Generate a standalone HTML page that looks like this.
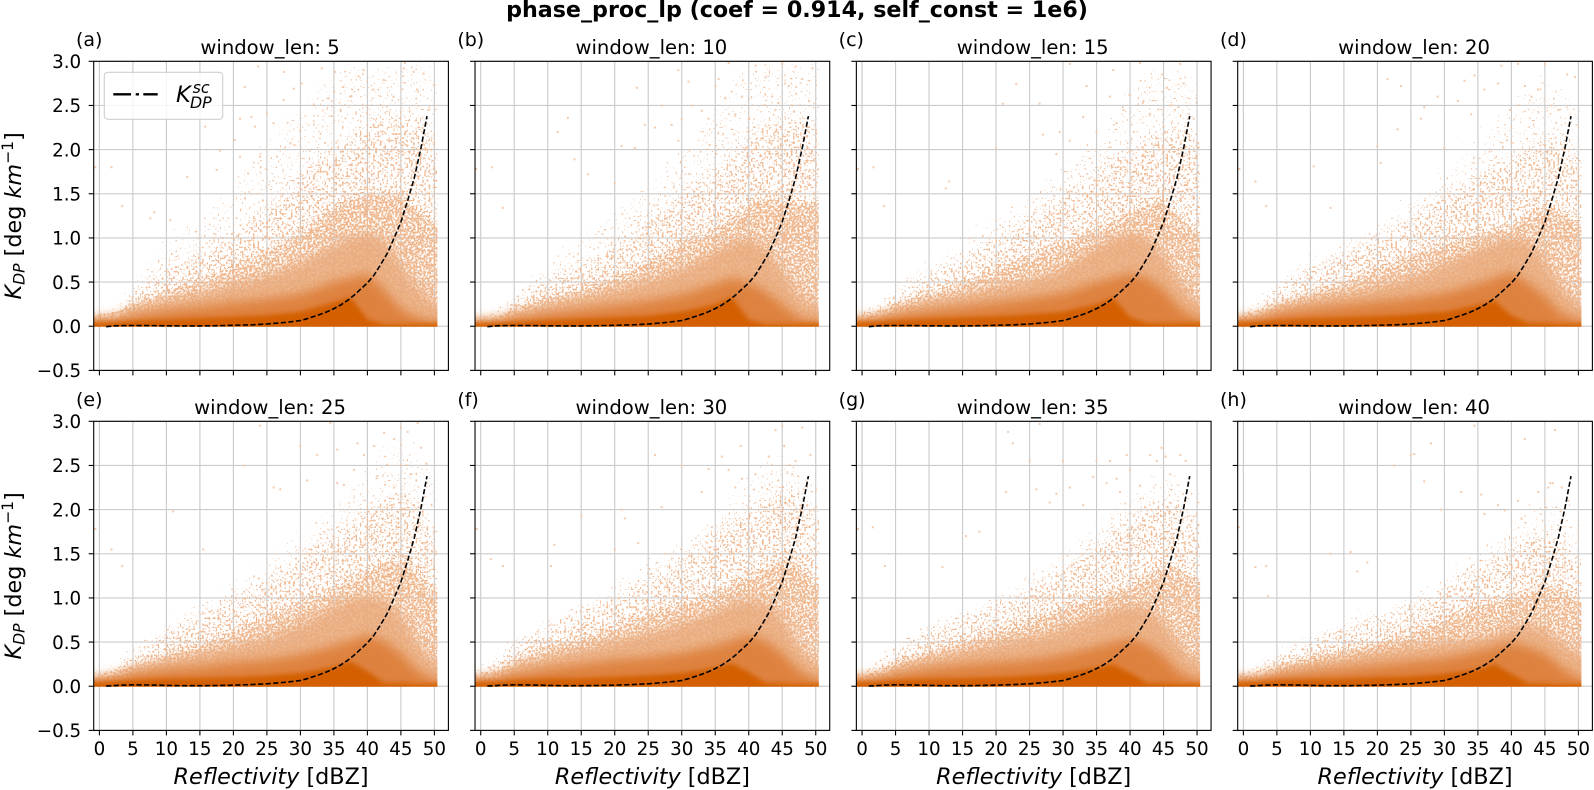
<!DOCTYPE html>
<html lang="en">
<head>
<meta charset="utf-8">
<title>phase_proc_lp scatter panels</title>
<style>
html,body{margin:0;padding:0;background:#fff;width:1594px;height:790px;overflow:hidden}
svg{display:block;font-family:"DejaVu Sans","Liberation Sans",sans-serif}
</style>
</head>
<body>
<svg id="figure" xmlns="http://www.w3.org/2000/svg" width="1594" height="790" viewBox="0 0 1594 790">
  <defs>
    <filter id="stipVeil" x="-5%" y="-10%" width="110%" height="120%" color-interpolation-filters="sRGB">
      <feGaussianBlur in="SourceAlpha" stdDeviation="12" result="b"/>
      <feTurbulence type="fractalNoise" baseFrequency="0.45" numOctaves="1" seed="21" result="n"/>
      <feColorMatrix in="n" type="matrix" values="0 0 0 0 0  0 0 0 0 0  0 0 0 0 0  1 0 0 0 0" result="na"/>
      <feComposite in="na" in2="b" operator="arithmetic" k1="0" k2="1" k3="0.35" k4="-0.35" result="a"/>
      <feComponentTransfer in="a" result="m"><feFuncA type="linear" slope="22" intercept="-14.3"/></feComponentTransfer>
      <feFlood flood-color="#f1c09c"/>
      <feComposite in2="m" operator="in"/>
    </filter>
    <filter id="stipSparse" x="-5%" y="-10%" width="110%" height="120%" color-interpolation-filters="sRGB">
      <feGaussianBlur in="SourceAlpha" stdDeviation="10" result="b"/>
      <feTurbulence type="fractalNoise" baseFrequency="0.45" numOctaves="1" seed="4" result="n"/>
      <feColorMatrix in="n" type="matrix" values="0 0 0 0 0  0 0 0 0 0  0 0 0 0 0  1 0 0 0 0" result="na"/>
      <feComposite in="na" in2="b" operator="arithmetic" k1="0" k2="1" k3="0.35" k4="-0.35" result="a"/>
      <feComponentTransfer in="a" result="m"><feFuncA type="linear" slope="22" intercept="-12.4"/></feComponentTransfer>
      <feFlood flood-color="#f0bd98"/>
      <feComposite in2="m" operator="in"/>
    </filter>
    <filter id="stipDense" x="-5%" y="-10%" width="110%" height="120%" color-interpolation-filters="sRGB">
      <feGaussianBlur in="SourceAlpha" stdDeviation="6" result="b"/>
      <feTurbulence type="fractalNoise" baseFrequency="0.5" numOctaves="1" seed="9" result="n"/>
      <feColorMatrix in="n" type="matrix" values="0 0 0 0 0  0 0 0 0 0  0 0 0 0 0  1 0 0 0 0" result="na"/>
      <feComposite in="na" in2="b" operator="arithmetic" k1="0" k2="1" k3="0.35" k4="-0.35" result="a"/>
      <feComponentTransfer in="a" result="m"><feFuncA type="linear" slope="22" intercept="-10.3"/></feComponentTransfer>
      <feFlood flood-color="#efb88f"/>
      <feComposite in2="m" operator="in"/>
    </filter>
    <filter id="softPale" x="-5%" y="-15%" width="110%" height="130%"><feGaussianBlur stdDeviation="5"/></filter>
    <filter id="softMid" x="-5%" y="-15%" width="110%" height="130%"><feGaussianBlur stdDeviation="5.5"/></filter>
    <filter id="softCore" x="-5%" y="-15%" width="110%" height="130%"><feGaussianBlur stdDeviation="2.4"/></filter>
  </defs>
  <rect width="1594" height="790" fill="#fff"/>
  <text x="797" y="17" text-anchor="middle" font-weight="bold" font-size="22.2" fill="#000">phase_proc_lp (coef = 0.914, self_const = 1e6)</text>
  <g id="panels"></g>
  <g>
    <rect x="104.3" y="72.3" width="118.4" height="47" rx="3.5" fill="#fff" fill-opacity="0.8" stroke="#cfcfcf" stroke-width="1.1"/>
    <line x1="113.3" y1="94.3" x2="157.7" y2="94.3" stroke="#000" stroke-width="2.4" stroke-dasharray="17.7 4.7 3.3 4.3 14.4"/>
    <text fill="#000" font-style="italic"><tspan x="176" y="102" font-size="22.5">K</tspan><tspan x="192.6" y="93" font-size="15.8">sc</tspan><tspan x="190" y="108" font-size="15.8">DP</tspan></text>
  </g>
</svg>
<script>
const windowLens = [5, 10, 15, 20, 25, 30, 35, 40];
const panelLetters = ["(a)", "(b)", "(c)", "(d)", "(e)", "(f)", "(g)", "(h)"];
const xTicks = [0, 5, 10, 15, 20, 25, 30, 35, 40, 45, 50];
const yTicks = [-0.5, 0, 0.5, 1, 1.5, 2, 2.5, 3];
const yTickLabels = ["\u22120.5", "0.0", "0.5", "1.0", "1.5", "2.0", "2.5", "3.0"];

const zBins = [-0.85, 2.5, 5, 10, 15, 20, 25, 30, 35, 37.5, 40, 42.5, 45, 47.5, 50.4];
const coreTop = [
  [.04,.045,.06,.075,.09,.105,.125,.165,.27,.33,.08,.03,.03,.03,.03],
  [.03,.04,.05,.07,.085,.10,.12,.165,.25,.33,.07,.03,.03,.03,.03],
  [.045,.055,.07,.085,.10,.115,.135,.165,.25,.32,.10,.04,.04,.04,.04],
  [.045,.055,.07,.09,.10,.115,.135,.165,.24,.29,.12,.04,.04,.03,.03],
  [.045,.055,.07,.085,.09,.10,.12,.15,.22,.28,.17,.04,.04,.03,.03],
  [.045,.055,.07,.085,.09,.105,.125,.15,.21,.26,.16,.04,.04,.03,.03],
  [.045,.055,.07,.085,.09,.10,.12,.15,.21,.25,.15,.04,.04,.03,.03],
  [.045,.055,.07,.08,.085,.10,.11,.14,.19,.25,.14,.04,.04,.03,.03]
];
const midTop = [
  [.07,.08,.12,.18,.22,.27,.31,.37,.50,.55,.60,.42,.20,.10,.05],
  [.05,.06,.09,.15,.19,.24,.29,.36,.48,.55,.50,.40,.25,.10,.05],
  [.07,.09,.13,.18,.22,.27,.32,.38,.50,.55,.60,.55,.42,.20,.07],
  [.07,.10,.15,.20,.24,.28,.32,.38,.48,.55,.62,.50,.35,.15,.06],
  [.07,.10,.14,.19,.22,.27,.30,.36,.46,.52,.58,.52,.38,.18,.06],
  [.08,.10,.14,.20,.25,.30,.33,.38,.46,.52,.58,.52,.38,.18,.06],
  [.08,.10,.14,.20,.24,.27,.30,.36,.45,.50,.55,.48,.35,.15,.06],
  [.08,.09,.13,.17,.20,.24,.28,.32,.40,.45,.50,.45,.38,.22,.08]
];
const paleTop = [
  [.10,.12,.22,.30,.38,.48,.58,.72,.92,1.02,1.05,1.00,.70,.45,.25],
  [.08,.10,.17,.26,.33,.42,.52,.65,.85,.95,1.00,.90,.65,.35,.22],
  [.10,.13,.20,.30,.36,.44,.52,.66,.90,1.00,1.05,1.02,.80,.50,.25],
  [.10,.14,.22,.32,.38,.46,.55,.70,.88,.95,1.00,.98,.75,.45,.25],
  [.10,.14,.22,.30,.38,.46,.55,.70,.90,1.00,1.02,1.00,.80,.50,.25],
  [.10,.14,.24,.34,.42,.52,.60,.72,.85,.95,.98,.95,.80,.45,.25],
  [.11,.14,.22,.32,.40,.48,.55,.65,.80,.88,.92,.90,.72,.45,.25],
  [.10,.12,.18,.26,.33,.40,.46,.50,.55,.60,.65,.72,.65,.50,.35]
];
const denseTop = [
  [.12,.18,.32,.45,.58,.72,.90,1.10,1.40,1.50,1.55,1.55,1.55,1.40,1.20],
  [.10,.15,.25,.38,.48,.60,.80,1.00,1.15,1.30,1.45,1.50,1.50,1.45,1.45],
  [.12,.20,.30,.42,.55,.70,.85,1.00,1.15,1.25,1.35,1.45,1.50,1.30,1.10],
  [.13,.20,.30,.42,.55,.70,.85,1.00,1.10,1.15,1.20,1.30,1.40,1.35,1.20],
  [.13,.20,.28,.42,.52,.68,.85,1.00,1.15,1.28,1.35,1.45,1.50,1.40,1.10],
  [.14,.22,.35,.50,.60,.72,.88,1.00,1.10,1.20,1.30,1.40,1.50,1.45,1.20],
  [.14,.20,.32,.45,.55,.68,.80,.95,1.05,1.12,1.20,1.30,1.40,1.40,1.20],
  [.12,.18,.28,.38,.46,.55,.65,.82,.95,1.00,1.05,1.12,1.20,1.15,1.00]
];
const sparseTop = [
  [.15,.25,.50,.75,.95,1.15,1.45,1.85,2.15,2.25,2.40,2.50,2.50,2.50,2.20],
  [.13,.22,.42,.65,.80,1.00,1.35,1.60,1.85,2.05,2.30,2.40,2.40,2.45,2.30],
  [.17,.30,.50,.70,.85,1.10,1.35,1.60,1.85,2.05,2.10,2.20,2.30,2.40,2.20],
  [.18,.35,.55,.75,.95,1.10,1.30,1.60,1.80,1.90,2.00,2.10,2.30,2.20,2.00],
  [.18,.32,.48,.72,.92,1.10,1.32,1.60,1.85,2.00,2.10,2.20,2.35,2.20,1.80],
  [.20,.40,.60,.78,.95,1.10,1.30,1.55,1.85,2.00,2.05,2.20,2.40,2.30,2.00],
  [.20,.35,.55,.72,.88,1.02,1.20,1.45,1.70,1.85,2.00,2.10,2.25,2.20,1.90],
  [.18,.32,.45,.60,.75,.88,.98,1.20,1.45,1.55,1.65,1.75,1.90,1.80,1.50]
];
const veilTop = [
  [.20,.40,.80,1.10,1.40,1.80,2.30,2.70,3.10,3.10,3.10,3.10,3.10,3.10,3.10],
  [.15,.30,.60,.85,1.20,1.50,1.80,2.20,2.70,3.10,3.10,3.10,3.10,3.10,3.10],
  [.20,.40,.60,.90,1.10,1.40,1.70,2.00,2.30,2.60,2.90,3.10,3.10,3.10,2.90],
  [.20,.45,.70,.90,1.10,1.30,1.60,1.90,2.30,2.50,2.70,2.90,3.00,2.90,2.60],
  [.20,.40,.60,.85,1.10,1.30,1.60,1.90,2.20,2.40,2.70,2.90,3.00,2.90,2.50],
  [.25,.45,.70,.90,1.10,1.30,1.60,1.80,2.10,2.30,2.50,2.70,2.90,2.70,2.40],
  [.25,.40,.65,.85,1.00,1.20,1.40,1.70,2.00,2.20,2.40,2.50,2.70,2.60,2.30],
  [.20,.35,.50,.70,.90,1.00,1.20,1.40,1.70,1.80,2.00,2.20,2.40,2.30,2.00]
];
const baseBand = [.04, .04, .045, .04, .04, .04, .04, .05];

const outliers = [
  [-.6,1.8, 1.8,1.8, 3.4,1.36, 8.2,1.29, 7.6,1.22, 10.6,1.2, 13.1,1.69, 17.5,1.77, 15.8,2.26, 18,1.99, 21,2.35, 21.7,2.71, 23.7,2.94, 22.7,2.37, 25,2.41, 27.6,2.88, 23.2,2.26, 29,2.69, 30.2,2.75, 33.2,2.92, 35.2,2.88, 38.7,2.83, 39.4,2.9, 42.4,2.79, 45.4,2.92, 48.4,2.86, 45.6,2.98, 46.9,2.88, 36.4,2.71, 34.2,2.58, 32,2.51, 37.4,2.6, 40.9,2.68, 43.9,2.6, 47.4,2.68, 39.9,2.41, 27.5,2.56, 26,2.3, 30,2.22, 33,2.18, 36,2.45, 42.9,2.49, 49.1,2.45, 24,1.92, 21,1.92, 26.5,1.92, 28.5,2.07, 22.2,1.73, 20.2,2.11],
  [-.7,1.78, 1.7,1.8, 3.3,1.34, 11.5,2.2, 13,2.36, 14,1.89, 16,1.72, 20,1.62, 21,2.04, 23,2.02, 24.5,2.28, 23.3,2.7, 29.5,2.1, 30,2.34, 29.5,2.9, 31,2.77, 31.5,2.5, 33,2.44, 35,2.72, 34,2.35, 36.5,2.58, 37,2.98, 35.5,2.8, 39,2.6, 40,2.35, 41,2.95, 42.5,2.82, 43.5,2.6, 45,2.97, 46,2.72, 47,2.94, 48,2.8, 49.5,2.92, 49,2.55, 46.5,2.5, 44,2.45, 38,2.4, 27,2.5, 28.5,2.28, 26,2.25],
  [-.6,1.78, 1.7,1.8, 3.3,1.36, 12.5,1.56, 13,1.64, 20,2.01, 21,2.52, 23,2.74, 26.5,2.52, 27,2.17, 29,1.95, 29.5,2.2, 31,2.1, 31,2.97, 33,2.37, 33.5,2.72, 35,2.2, 37,2.6, 38,2.3, 37.5,2.9, 39,2.45, 39.9,2.62, 41.5,2.98, 42,2.55, 43,2.4, 44.8,2.85, 45.5,2.7, 46,2.5, 47.5,2.97, 48,2.75, 49.5,2.35, 46.7,2.45],
  [-.6,1.78, 1.8,1.64, 3.4,1.36, 10.5,1.81, 13,1.34, 20,2.04, 21.5,2.8, 20.5,1.85, 23.5,2.72, 23,2.23, 26.5,2.35, 27,2.48, 29,2.6, 30,2.02, 32,2.55, 33,2.78, 34.5,2.84, 34,2.4, 36,2.68, 38,2.75, 38.5,2.95, 39.8,2.45, 41,2.97, 42,2.72, 43,2.6, 44,2.68, 45,2.97, 46,2.5, 47,2.45, 48.3,2.85, 49.5,2.82],
  [-.6,1.78, 1.8,1.55, 3.4,1.36, 11,1.98, 15.5,1.55, 21.5,2.5, 24,2.95, 26,2.25, 27,2.23, 30,2.72, 31,2.33, 32.5,2.62, 34.5,2.98, 35.5,2.68, 35.5,2.3, 36.5,2.28, 38,2.45, 38.5,2.75, 39.5,2.62, 41,2.72, 41.5,2.38, 42.5,2.87, 44,2.8, 45,2.93, 46,2.88, 47.5,2.98, 48,2.7, 48.8,2.52, 46.5,2.4, 44,2.25],
  [-.6,1.78, 3.3,1.36, 1.5,1.44, 10.5,1.36, 11,1.6, 15,1.93, 20,1.55, 21,2.0, 21.5,1.9, 23.5,1.62, 26,2.62, 27,2.03, 30,2.5, 33,2.2, 34,2.46, 34.5,1.8, 36,2.6, 37,2.45, 38,2.25, 38.8,2.72, 39,2.35, 40,2.02, 41,2.4, 42,2.25, 43,2.6, 44,2.9, 45,2.95, 45.3,2.72, 46.5,2.4, 47,2.55, 48,2.93, 49.2,2.62, 48.5,2.27],
  [-.6,1.78, 1.6,1.8, 3.4,1.36, 12,1.35, 15.5,1.7, 17.5,1.75, 21.8,2.88, 22.5,2.75, 25,2.55, 26.5,2.97, 26,2.23, 21.5,2.2, 28,2.08, 29,2.18, 30,2.55, 31,2.25, 33,2.05, 34.5,2.37, 35,2.55, 36.5,2.3, 37,2.55, 38,2.35, 38.5,2.2, 39.5,2.62, 40,2.45, 41.5,2.27, 43,2.62, 44,2.55, 44.7,2.7, 45.3,2.6, 47.5,2.62, 48.3,2.55, 46,2.4],
  [-.7,1.8, 1.8,1.35, 3.4,1.36, 3.7,1.02, 13,1.5, 16,1.52, 17,1.3, 18.5,1.4, 22.5,2.5, 25,2.62, 25.5,2.63, 27,2.32, 28,2.75, 29.5,2.0, 32.5,2.2, 34.5,2.95, 35.5,2.17, 36,1.95, 38,2.05, 39,1.99, 41,2.1, 41.5,1.9, 42,2.8, 44,2.2, 45.5,2.25, 45.8,2.3, 46.2,2.3, 46.5,2.9, 47.5,2.25, 48.5,2.1]
];

const curveZ = [1,2,3,5,7.5,10,12.5,15,17.5,20,22.5,25,28,30,31,32,33,34,35,36,37,38,39,40,41,42,43,44,45,46,47,48,48.9];
const curveTop = [-.005,.003,.006,.008,.007,.005,.004,.004,.006,.01,.015,.025,.045,.065,.085,.11,.135,.165,.2,.24,.29,.35,.42,.49,.58,.7,.83,1.0,1.18,1.42,1.68,2.02,2.38];
const curveBottom = [.002,.006,.011,.016,.014,.009,.006,.006,.008,.012,.018,.028,.047,.065,.085,.11,.135,.165,.2,.24,.29,.35,.42,.49,.58,.7,.83,1.0,1.18,1.42,1.68,2.02,2.38];

const NS = 'http://www.w3.org/2000/svg';
const root = document.getElementById('panels');
const PANEL_W = 354.7, PANEL_H = 309.1, STEP_X = 381.33;
const TOPS = [61.3, 421.3];

function make(tag, parent, attrs, text) {
  const el = document.createElementNS(NS, tag);
  for (const key in attrs) el.setAttribute(key, attrs[key]);
  if (text !== undefined) el.textContent = text;
  parent.appendChild(el);
  return el;
}

windowLens.forEach(function (win, i) {
  const col = i % 4, row = Math.floor(i / 4);
  const left = 93.7 + col * STEP_X, top = TOPS[row], bottom = top + PANEL_H, right = left + PANEL_W;
  const xOf = function (z) { return left + 5.7 + 6.7 * z; };
  const yOf = function (k) { return top + (3 - k) * 88.31; };

  const panel = make('g', root, {});
  
  

  const clipId = 'clip' + i;
  const clip = make('clipPath', panel, { id: clipId });
  make('rect', clip, { x: left, y: top, width: xOf(50.45) - left, height: yOf(-0.004) - top });

  const grid = make('g', panel, { stroke: '#cbcbcb', 'stroke-width': 1.15 });
  
  
  xTicks.forEach(function (t) {
    const line = make('line', grid, { x1: xOf(t), x2: xOf(t), y1: top, y2: bottom });
    
    
  });
  yTicks.forEach(function (t) {
    const line = make('line', grid, { x1: left, x2: right, y1: yOf(t), y2: yOf(t) });
    
    
  });

  const scatter = make('g', panel, { 'clip-path': 'url(#' + clipId + ')' });
  
  

  const areaPoints = function (values) {
    const pts = zBins.map(function (z, n) { return xOf(z).toFixed(1) + ',' + yOf(values[n]).toFixed(1); });
    const lastX = xOf(zBins[zBins.length - 1]) + 14, firstX = xOf(zBins[0]) - 14, floor = yOf(-0.25);
    pts.unshift(firstX.toFixed(1) + ',' + yOf(values[0]).toFixed(1));
    pts.unshift(firstX.toFixed(1) + ',' + floor.toFixed(1));
    pts.push(lastX.toFixed(1) + ',' + yOf(values[values.length - 1]).toFixed(1));
    pts.push(lastX.toFixed(1) + ',' + floor.toFixed(1));
    return pts.join(' ');
  };

  const veil = make('polygon', scatter, { points: areaPoints(veilTop[i]), fill: '#000', filter: 'url(#stipVeil)' });
  
  

  const sparse = make('polygon', scatter, { points: areaPoints(sparseTop[i]), fill: '#000', filter: 'url(#stipSparse)' });
  
  

  const dense = make('polygon', scatter, { points: areaPoints(denseTop[i]), fill: '#000', filter: 'url(#stipDense)' });
  
  

  const dots = outliers[i];
  for (let n = 0; n < dots.length; n += 2) {
    const dot = make('rect', scatter, { x: xOf(dots[n]) - 1, y: yOf(dots[n + 1]) - 1, width: 2, height: 2, fill: '#f3cbae' });
    
    
  }

  const pale = make('polygon', scatter, { points: areaPoints(paleTop[i]), fill: '#e9aa7c', 'fill-opacity': 0.82, filter: 'url(#softPale)' });
  
  

  const mid = make('polygon', scatter, { points: areaPoints(midTop[i]), fill: '#dc7a34', 'fill-opacity': 0.85, filter: 'url(#softMid)' });
  
  

  const base = make('rect', scatter, { x: left, y: yOf(baseBand[i]), width: PANEL_W, height: yOf(0) - yOf(baseBand[i]) + 1, fill: '#e2904f', 'fill-opacity': 0.85 });
  
  

  const core = make('polygon', scatter, { points: areaPoints(coreTop[i]), fill: '#d35f00', filter: 'url(#softCore)' });
  
  

  const curveValues = row === 0 ? curveTop : curveBottom;
  const curvePts = curveZ.map(function (z, n) { return xOf(z).toFixed(1) + ',' + yOf(curveValues[n]).toFixed(1); }).join(' ');
  const curve = make('polyline', panel, { points: curvePts, fill: 'none', stroke: '#000', 'stroke-width': 1.6, 'stroke-dasharray': '5.2 2.4' });
  
  

  const ticks = make('g', panel, { stroke: '#000', 'stroke-width': 1.1 });
  
  
  xTicks.forEach(function (t) {
    const tick = make('line', ticks, { x1: xOf(t), x2: xOf(t), y1: bottom, y2: bottom + 5 });
    
    
  });
  yTicks.forEach(function (t) {
    const tick = make('line', ticks, { x1: left - 5, x2: left, y1: yOf(t), y2: yOf(t) });
    
    
  });

  const frame = make('rect', panel, { x: left, y: top, width: PANEL_W, height: PANEL_H, fill: 'none', stroke: '#000', 'stroke-width': 1.1 });
  
  

  const title = make('text', panel, { x: (left + right) / 2 - 1, y: top - 7.3, 'text-anchor': 'middle', 'font-size': 19.6, fill: '#000' }, 'window_len: ' + win);
  
  

  const letter = make('text', panel, { x: left - 17.7, y: top - 15.3, 'font-size': 19, fill: '#000' }, panelLetters[i]);
  
  

  if (row === 1) {
    xTicks.forEach(function (t) {
      const label = make('text', panel, { x: xOf(t), y: bottom + 24.6, 'text-anchor': 'middle', 'font-size': 18.3, fill: '#000' }, String(t));
      
      
    });
    const xTitle = make('text', panel, { x: (left + right) / 2, y: bottom + 53.8, 'text-anchor': 'middle', 'font-size': 22.3, fill: '#000' });
    
    
    make('tspan', xTitle, { 'font-style': 'italic' }, 'Reflectivity');
    make('tspan', xTitle, {}, ' [dBZ]');
  }

  if (col === 0) {
    yTicks.forEach(function (t, n) {
      const label = make('text', panel, { x: left - 12.5, y: yOf(t) + 6.7, 'text-anchor': 'end', 'font-size': 18.3, fill: '#000' }, yTickLabels[n]);
      
      
    });
    const cy = (top + bottom) / 2;
    const yTitle = make('text', panel, { transform: 'translate(21,' + cy + ') rotate(-90)', 'text-anchor': 'middle', 'font-size': 22.3, fill: '#000' });
    
    
    make('tspan', yTitle, { 'font-style': 'italic' }, 'K');
    make('tspan', yTitle, { 'font-style': 'italic', 'font-size': 15.6, dy: 3.3 }, 'DP');
    make('tspan', yTitle, { dy: -3.3 }, ' [deg ');
    make('tspan', yTitle, { 'font-style': 'italic' }, 'km');
    make('tspan', yTitle, { 'font-size': 15.6, dy: -8 }, '\u22121');
    make('tspan', yTitle, { dy: 8 }, ']');
  }
});
</script>
</body>
</html>
